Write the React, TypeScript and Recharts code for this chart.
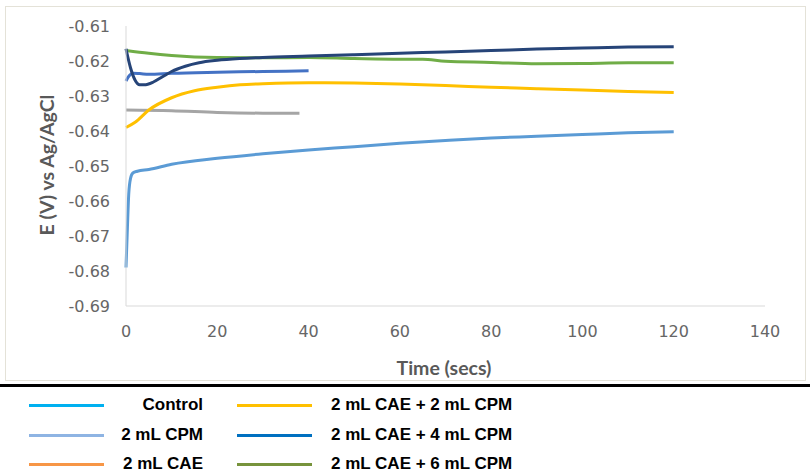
import React from "react";
import { LineChart, Line, XAxis, YAxis } from "recharts";

// time (s) and potential (V vs Ag/AgCl) per run
const controlT = [0, 0.3, 0.6, 1, 1.5, 2.5, 5, 10, 20, 30, 40, 50, 60, 70, 80, 90, 100, 110, 120];
const controlE = [-0.679, -0.668, -0.658, -0.6535, -0.652, -0.6515, -0.651, -0.6495, -0.6478, -0.6465, -0.6454, -0.6445, -0.6435, -0.6427, -0.642, -0.6415, -0.641, -0.6405, -0.6402];

const cae2T = [0, 2, 5, 10, 15, 20, 25, 30, 40, 50, 60, 70, 80, 90, 100, 110, 120];
const cae2E = [-0.639, -0.6375, -0.634, -0.6305, -0.6285, -0.6275, -0.6268, -0.6265, -0.6262, -0.6263, -0.6266, -0.627, -0.6275, -0.6279, -0.6283, -0.6287, -0.629];

const greyT = [0, 10, 20, 30, 38];
const greyE = [-0.634, -0.6342, -0.6347, -0.6349, -0.6349];

const blueT = [0, 0.7, 1.5, 3, 5, 10, 20, 30, 40];
const blueE = [-0.6257, -0.6242, -0.6235, -0.6236, -0.6238, -0.6235, -0.6232, -0.623, -0.6228];

const cae4T = [0, 1, 2, 3, 4, 6, 8, 10, 13, 16, 20, 25, 30, 40, 50, 60, 70, 80, 90, 100, 110, 120];
const cae4E = [-0.6165, -0.622, -0.6255, -0.6268, -0.6268, -0.626, -0.6245, -0.623, -0.6215, -0.6205, -0.6198, -0.6193, -0.619, -0.6186, -0.6182, -0.6178, -0.6174, -0.617, -0.6166, -0.6163, -0.616, -0.6159];

const cae6T = [0, 5, 10, 20, 30, 40, 50, 60, 65, 70, 80, 90, 100, 110, 120];
const cae6E = [-0.617, -0.6178, -0.6184, -0.619, -0.6191, -0.619, -0.6193, -0.6195, -0.6195, -0.6201, -0.6204, -0.6208, -0.6207, -0.6205, -0.6205];

const xTicks = [0, 20, 40, 60, 80, 100, 120, 140];
const yTicks = [-0.69, -0.68, -0.67, -0.66, -0.65, -0.64, -0.63, -0.62, -0.61];

const legendLeft = [
  { name: "Control", color: "#00B0F0" },
  { name: "2 mL CPM", color: "#8EB4E3" },
  { name: "2 mL CAE", color: "#F79646" },
];
const legendRight = [
  { name: "2 mL CAE + 2 mL CPM", color: "#FFC000" },
  { name: "2 mL CAE + 4 mL CPM", color: "#0070C0" },
  { name: "2 mL CAE + 6 mL CPM", color: "#77933C" },
];

const zip = (t: number[], e: number[]) => t.map((x, i) => ({ t: x, e: e[i] }));

const runs = [
  { key: "grey", data: zip(greyT, greyE), color: "#A5A5A5" },
  { key: "control", data: zip(controlT, controlE), color: "#5B9BD5" },
  { key: "cae2", data: zip(cae2T, cae2E), color: "#FFC000" },
  { key: "cae6", data: zip(cae6T, cae6E), color: "#70AD47" },
  { key: "blue", data: zip(blueT, blueE), color: "#4472C4" },
  { key: "cae4", data: zip(cae4T, cae4E), color: "#264478" },
];

const tickStyle = { fontSize: 16, fill: "#666666", fontFamily: "DejaVu Sans" };
const titleStyle: React.CSSProperties = {
  position: "absolute",
  fontFamily: "Lato",
  fontWeight: 700,
  fontSize: 19.5,
  color: "#595959",
  whiteSpace: "nowrap",
};
const legendText: React.CSSProperties = {
  fontFamily: "Liberation Sans",
  fontWeight: 700,
  fontSize: 17,
  color: "#000",
  whiteSpace: "nowrap",
  position: "absolute",
};

export default function App() {
  return (
    <div style={{ position: "absolute", left: 0, top: 0, width: 812, height: 473, background: "#fff", overflow: "hidden" }}>
      <div style={{ position: "absolute", left: 5, top: 6, width: 799, height: 373, border: "1px solid #E4E2D8" }} />
      <div style={{ position: "absolute", left: 0, top: 0 }}>
        <LineChart width={812} height={385} margin={{ top: 26, right: 47, bottom: 49, left: 66 }}>
          <XAxis
            type="number"
            dataKey="t"
            domain={[0, 140]}
            ticks={xTicks}
            allowDuplicatedCategory={false}
            height={30}
            tickLine={false}
            tickSize={0}
            tickMargin={20}
            tick={tickStyle}
            axisLine={{ stroke: "#D9D9D9", strokeWidth: 1 }}
          />
          <YAxis
            type="number"
            dataKey="e"
            domain={[-0.69, -0.61]}
            ticks={yTicks}
            width={60}
            tickLine={false}
            tickSize={0}
            tickMargin={16}
            tick={tickStyle}
            tickFormatter={(v: number) => v.toFixed(2)}
            axisLine={{ stroke: "#D9D9D9", strokeWidth: 1 }}
          />
          {runs.map((r) => (
            <Line
              key={r.key}
              data={r.data}
              dataKey="e"
              type="monotone"
              stroke={r.color}
              strokeWidth={3}
              dot={false}
              isAnimationActive={false}
            />
          ))}
        </LineChart>
      </div>
      <div style={{ ...titleStyle, left: 46, top: 165, transform: "translate(-50%, -50%) rotate(-90deg)" }}>
        E (V) vs Ag/AgCl
      </div>
      <div style={{ ...titleStyle, left: 444, top: 367, transform: "translate(-50%, -50%)" }}>Time (secs)</div>
      <div style={{ position: "absolute", left: 0, top: 384, width: 810, height: 3, background: "#000" }} />
      {legendLeft.map((l, i) => (
        <React.Fragment key={l.name}>
          <div style={{ position: "absolute", left: 29, top: 404 + i * 29.5, width: 75, height: 3, background: l.color }} />
          <div style={{ ...legendText, right: 812 - 203, top: 395 + i * 29.5 }}>{l.name}</div>
        </React.Fragment>
      ))}
      {legendRight.map((l, i) => (
        <React.Fragment key={l.name}>
          <div style={{ position: "absolute", left: 237, top: 404 + i * 29.5, width: 75, height: 3, background: l.color }} />
          <div style={{ ...legendText, left: 331, top: 395 + i * 29.5 }}>{l.name}</div>
        </React.Fragment>
      ))}
    </div>
  );
}
